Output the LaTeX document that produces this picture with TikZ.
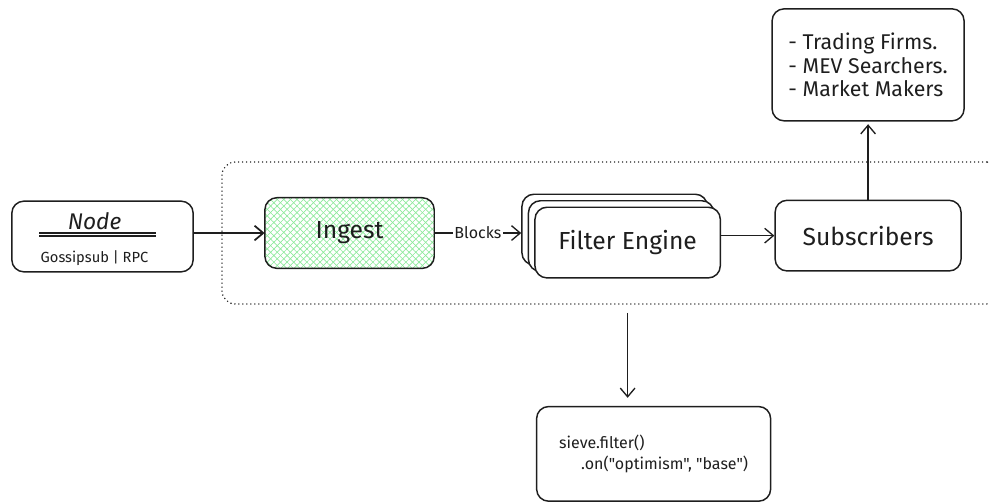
\documentclass[tikz,border=0pt]{standalone}
\usepackage{fontspec}
\setmainfont{Fira Sans}[Ligatures=TeXOff]
\usetikzlibrary{arrows.meta,positioning,patterns.meta}
\definecolor{inkblack}{HTML}{1E1E1E}
\definecolor{hatchgreen}{HTML}{8CE99A}

\begin{document}
\begin{tikzpicture}[
 x=0.75pt,y=-0.75pt,
 box/.style={draw=inkblack,line width=1.1pt,rounded corners=9pt,text=inkblack,
   align=center,font=\fontsize{18.5}{22}\selectfont,minimum height=53pt,inner sep=3pt},
 card/.style={box,fill=white,minimum width=139pt},
 hatch/.style={preaction={pattern={Lines[angle=45,distance=3.5pt,line width=0.5pt]},pattern color=hatchgreen},
   pattern={Lines[angle=-45,distance=3.5pt,line width=0.5pt]},pattern color=hatchgreen},
 arr/.style={-{Straight Barb[length=6.5pt,width=11pt]},line width=1pt,draw=inkblack},
 frame/.style={draw=inkblack,line width=1.2pt,dash pattern=on 0pt off 3pt,line cap=round,
   rounded corners=10pt}
]
\useasboundingbox (0,0) rectangle (990,503);

\node[box,minimum width=136pt] (source) at (102.5,236.5) {};
\node[text=inkblack,font=\fontsize{17}{20}\selectfont\itshape] (sourcetitle)
 at ([shift={(-8,-15)}]source.center) {Node};
\draw[inkblack,line width=0.9pt,double,double distance=1.4pt]
 ([shift={(28,-2)}]source.west) -- ([shift={(-38,-2)}]source.east);
\node[text=inkblack,font=\fontsize{11}{13}\selectfont] (sourcesub)
 at ([shift={(-8,21.5)}]source.center) {Gossipsub | RPC};

\node[box,hatch,minimum width=127pt,right=53pt of source,yshift=2.6pt] (ingest) {Ingest};
\node[card,right=65pt of ingest,yshift=2.6pt] (back) {};
\node[card] (middle) at ([shift={(6.5,6.5)}]back) {};
\node[card] (engine) at ([shift={(6.5,6.5)}]middle) {Filter Engine};
\node[box,minimum width=139.5pt,right=40pt of engine,yshift=5.2pt] (subs) {Subscribers};
\node[box,minimum width=144pt,minimum height=84pt,above=58.5pt of subs,align=left,
 font=\fontsize{16}{17.6}\selectfont] (clients)
 {- Trading Firms.\\- MEV Searchers.\\- Market Makers};

\node[frame,minimum width=583.5pt,minimum height=106.5pt] (pipeline) at (611,233) {};
\coordinate (tap) at (pipeline.south -| engine);
\node[box,minimum width=175.5pt,minimum height=71pt,below=75.75pt of tap,xshift=19.5pt,
 align=left,font=\fontsize{12}{15.75}\selectfont] (code)
 {sieve.filter()\\\hspace*{16.5pt}.on("optimism", "base")};

\draw[arr,line width=1.3pt] (source.east |- ingest.west) -- (ingest.west);
\draw[arr] (ingest.east) -- node[fill=white,inner sep=1pt,text=inkblack,
 font=\fontsize{12}{14}\selectfont] {Blocks} (ingest.east -| back.west);
\draw[arr] (subs.west -| engine.east) -- (subs.west);
\draw[arr,shorten >=2pt] (subs.north) -- (clients.south);
\draw[arr,shorten <=6pt,shorten >=6pt] (tap) -- (code.north -| tap);
\end{tikzpicture}
\end{document}
